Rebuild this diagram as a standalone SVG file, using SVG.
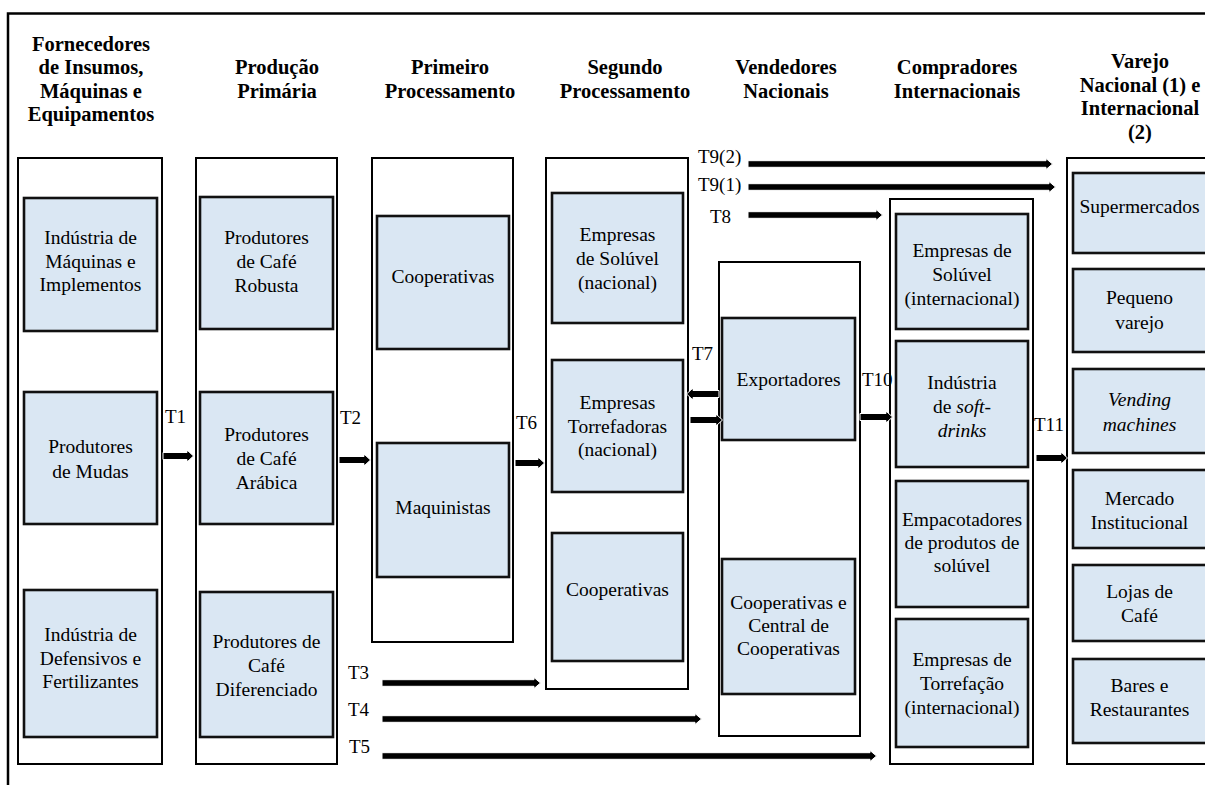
<svg xmlns="http://www.w3.org/2000/svg" width="1205" height="785" viewBox="0 0 1205 785">
  <style>
    .frame { fill: none; stroke: #000; stroke-width: 2.5; }
    .col { fill: #fff; stroke: #000; stroke-width: 2; }
    .box { fill: #DAE7F3; stroke: #111; stroke-width: 2.6; }
    .h { font-family: "Liberation Serif", "Times New Roman", serif; font-weight: bold; font-size: 20.5px; text-anchor: middle; fill: #000; }
    .n { font-family: "Liberation Serif", "Times New Roman", serif; font-size: 19.5px; text-anchor: middle; fill: #000; }
    .t { font-family: "Liberation Serif", "Times New Roman", serif; font-size: 19px; fill: #000; }
    .i { font-style: italic; }
    .arr { fill: #000; stroke: #fff; stroke-width: 1; }
  </style>

  <rect width="1205" height="785" fill="#fff"/>
  <path class="frame" d="M8,786 V13.5 H1207"/>

  <!-- column headers -->
  <g id="headers">
    <text class="h" x="91" y="50.5">Fornecedores</text>
    <text class="h" x="91" y="74">de Insumos,</text>
    <text class="h" x="91" y="97.5">Máquinas e</text>
    <text class="h" x="91" y="121">Equipamentos</text>
    <text class="h" x="277" y="74">Produção</text>
    <text class="h" x="277" y="97.5">Primária</text>
    <text class="h" x="450" y="74">Primeiro</text>
    <text class="h" x="450" y="97.5">Processamento</text>
    <text class="h" x="625" y="74">Segundo</text>
    <text class="h" x="625" y="97.5">Processamento</text>
    <text class="h" x="786" y="74">Vendedores</text>
    <text class="h" x="786" y="97.5">Nacionais</text>
    <text class="h" x="957" y="74">Compradores</text>
    <text class="h" x="957" y="97.5">Internacionais</text>
    <text class="h" x="1140" y="68">Varejo</text>
    <text class="h" x="1140" y="91.5">Nacional (1) e</text>
    <text class="h" x="1140" y="115">Internacional</text>
    <text class="h" x="1140" y="138.5">(2)</text>
  </g>

  <!-- stage columns -->
  <g id="col-fornecedores">
    <rect class="col" x="18" y="158" width="144" height="606"/>
    <g id="n-maquinas">
      <rect class="box" x="24" y="198" width="133" height="133"/>
      <text class="n" x="90.5" y="244">Indústria de</text>
      <text class="n" x="90.5" y="268">Máquinas e</text>
      <text class="n" x="90.5" y="291">Implementos</text>
    </g>
    <g id="n-mudas">
      <rect class="box" x="24" y="392" width="133" height="132"/>
      <text class="n" x="90.5" y="453">Produtores</text>
      <text class="n" x="90.5" y="478">de Mudas</text>
    </g>
    <g id="n-defensivos">
      <rect class="box" x="24" y="590" width="133" height="147"/>
      <text class="n" x="90.5" y="641">Indústria de</text>
      <text class="n" x="90.5" y="664.5">Defensivos e</text>
      <text class="n" x="90.5" y="688">Fertilizantes</text>
    </g>
  </g>

  <g id="col-producao">
    <rect class="col" x="196" y="158" width="141" height="606"/>
    <g id="n-robusta">
      <rect class="box" x="200" y="197" width="133" height="132"/>
      <text class="n" x="266.5" y="244">Produtores</text>
      <text class="n" x="266.5" y="268">de Café</text>
      <text class="n" x="266.5" y="292">Robusta</text>
    </g>
    <g id="n-arabica">
      <rect class="box" x="200" y="392" width="133" height="132"/>
      <text class="n" x="266.5" y="441">Produtores</text>
      <text class="n" x="266.5" y="465">de Café</text>
      <text class="n" x="266.5" y="489">Arábica</text>
    </g>
    <g id="n-diferenciado">
      <rect class="box" x="200" y="592" width="133" height="145"/>
      <text class="n" x="266.5" y="648">Produtores de</text>
      <text class="n" x="266.5" y="672">Café</text>
      <text class="n" x="266.5" y="696">Diferenciado</text>
    </g>
  </g>

  <g id="col-primeiro">
    <rect class="col" x="372" y="158" width="141" height="484"/>
    <g id="n-cooperativas1">
      <rect class="box" x="377" y="216" width="132" height="133"/>
      <text class="n" x="443" y="283">Cooperativas</text>
    </g>
    <g id="n-maquinistas">
      <rect class="box" x="377" y="443" width="132" height="134"/>
      <text class="n" x="443" y="514">Maquinistas</text>
    </g>
  </g>

  <g id="col-segundo">
    <rect class="col" x="546" y="158" width="142" height="531"/>
    <g id="n-soluvel-nac">
      <rect class="box" x="552" y="193" width="131" height="130"/>
      <text class="n" x="617.5" y="241">Empresas</text>
      <text class="n" x="617.5" y="265">de Solúvel</text>
      <text class="n" x="617.5" y="289">(nacional)</text>
    </g>
    <g id="n-torrefadoras">
      <rect class="box" x="552" y="360" width="131" height="132"/>
      <text class="n" x="617.5" y="409">Empresas</text>
      <text class="n" x="617.5" y="433">Torrefadoras</text>
      <text class="n" x="617.5" y="456">(nacional)</text>
    </g>
    <g id="n-cooperativas2">
      <rect class="box" x="552" y="533" width="131" height="128"/>
      <text class="n" x="617.5" y="596">Cooperativas</text>
    </g>
  </g>

  <g id="col-vendedores">
    <rect class="col" x="719" y="262" width="141" height="474"/>
    <g id="n-exportadores">
      <rect class="box" x="722" y="318" width="133" height="122"/>
      <text class="n" x="788.5" y="386">Exportadores</text>
    </g>
    <g id="n-central">
      <rect class="box" x="722" y="559" width="133" height="135"/>
      <text class="n" x="788.5" y="609">Cooperativas e</text>
      <text class="n" x="788.5" y="632">Central de</text>
      <text class="n" x="788.5" y="655">Cooperativas</text>
    </g>
  </g>

  <g id="col-compradores">
    <rect class="col" x="890" y="199" width="143" height="565"/>
    <g id="n-soluvel-int">
      <rect class="box" x="896" y="214" width="132" height="115"/>
      <text class="n" x="962" y="257">Empresas de</text>
      <text class="n" x="962" y="281">Solúvel</text>
      <text class="n" x="962" y="305">(internacional)</text>
    </g>
    <g id="n-softdrinks">
      <rect class="box" x="896" y="341" width="132" height="126"/>
      <text class="n" x="962" y="389">Indústria</text>
      <text class="n" x="962" y="413">de <tspan class="i">soft-</tspan></text>
      <text class="n i" x="962" y="437">drinks</text>
    </g>
    <g id="n-empacotadores">
      <rect class="box" x="896" y="481" width="132" height="126"/>
      <text class="n" x="962" y="526">Empacotadores</text>
      <text class="n" x="962" y="549">de produtos de</text>
      <text class="n" x="962" y="572">solúvel</text>
    </g>
    <g id="n-torrefacao-int">
      <rect class="box" x="896" y="619" width="132" height="128"/>
      <text class="n" x="962" y="666">Empresas de</text>
      <text class="n" x="962" y="689.5">Torrefação</text>
      <text class="n" x="962" y="714">(internacional)</text>
    </g>
  </g>

  <g id="col-varejo">
    <rect class="col" x="1067" y="158" width="150" height="606"/>
    <g id="n-supermercados">
      <rect class="box" x="1073" y="173" width="140" height="80"/>
      <text class="n" x="1139.5" y="213">Supermercados</text>
    </g>
    <g id="n-pequeno">
      <rect class="box" x="1073" y="269" width="140" height="83"/>
      <text class="n" x="1139.5" y="304">Pequeno</text>
      <text class="n" x="1139.5" y="329">varejo</text>
    </g>
    <g id="n-vending">
      <rect class="box" x="1073" y="369" width="140" height="84"/>
      <text class="n i" x="1139.5" y="406">Vending</text>
      <text class="n i" x="1139.5" y="431">machines</text>
    </g>
    <g id="n-institucional">
      <rect class="box" x="1073" y="470" width="140" height="78"/>
      <text class="n" x="1139.5" y="505">Mercado</text>
      <text class="n" x="1139.5" y="529">Institucional</text>
    </g>
    <g id="n-lojas">
      <rect class="box" x="1073" y="565" width="140" height="76"/>
      <text class="n" x="1139.5" y="598">Lojas de</text>
      <text class="n" x="1139.5" y="621.5">Café</text>
    </g>
    <g id="n-bares">
      <rect class="box" x="1073" y="659" width="140" height="84"/>
      <text class="n" x="1139.5" y="692">Bares e</text>
      <text class="n" x="1139.5" y="715.5">Restaurantes</text>
    </g>
  </g>

  <!-- transaction connectors -->
  <g id="connectors">
    <!-- short links between adjacent stages -->
    <path class="arr" d="M163,452.5 H187 V450 L193.5,456 L187,462 V459.5 H163 Z"/>
    <path class="arr" d="M339,456.5 H364 V454 L370.5,460 L364,466 V463.5 H339 Z"/>
    <path class="arr" d="M515,459.5 H538 V457 L544.5,463 L538,469 V466.5 H515 Z"/>
    <path class="arr" d="M719,390.5 H693 V388 L686.5,394 L693,400 V397.5 H719 Z"/>
    <path class="arr" d="M690,416.5 H716 V414 L722.5,420 L716,426 V423.5 H690 Z"/>
    <path class="arr" d="M860,413.5 H886 V411 L892.5,417 L886,423 V420.5 H860 Z"/>
    <path class="arr" d="M1036,454.5 H1061 V452 L1067.5,458 L1061,464 V461.5 H1036 Z"/>
    <!-- long links skipping stages -->
    <path class="arr" d="M748,160.7 H1046 V158.5 L1052.5,164 L1046,169.5 V167.3 H748 Z"/>
    <path class="arr" d="M748,183.7 H1049 V181.5 L1055.5,187 L1049,192.5 V190.3 H748 Z"/>
    <path class="arr" d="M748,211.7 H876 V209.5 L882.5,215 L876,220.5 V218.3 H748 Z"/>
    <path class="arr" d="M382,679.7 H534 V677.5 L540.5,683 L534,688.5 V686.3 H382 Z"/>
    <path class="arr" d="M382,715.7 H695 V713.5 L701.5,719 L695,724.5 V722.3 H382 Z"/>
    <path class="arr" d="M382,752.7 H870 V750.5 L876.5,756 L870,761.5 V759.3 H382 Z"/>

    <text class="t" x="165" y="423">T1</text>
    <text class="t" x="340" y="424">T2</text>
    <text class="t" x="348" y="679">T3</text>
    <text class="t" x="348" y="716">T4</text>
    <text class="t" x="349" y="753">T5</text>
    <text class="t" x="516" y="429">T6</text>
    <text class="t" x="692" y="360">T7</text>
    <text class="t" x="710" y="223">T8</text>
    <text class="t" x="698" y="191">T9(1)</text>
    <text class="t" x="698" y="163">T9(2)</text>
    <text class="t" x="862" y="386">T10</text>
    <text class="t" x="1034" y="431">T11</text>
  </g>
</svg>
